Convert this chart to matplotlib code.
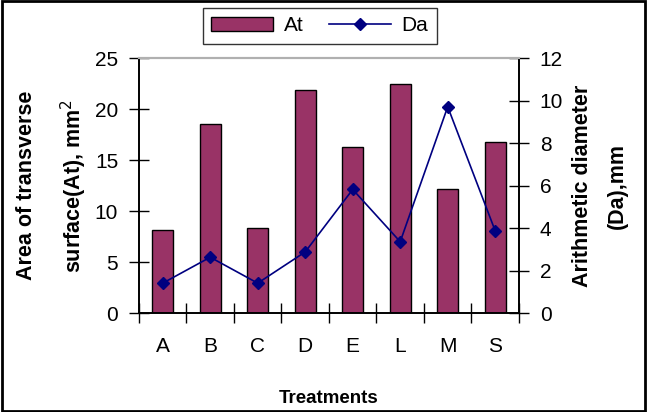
import matplotlib
matplotlib.use("Agg")
import matplotlib.pyplot as plt
from matplotlib.lines import Line2D
from matplotlib.patches import Patch, Rectangle

categories = ["A", "B", "C", "D", "E", "L", "M", "S"]
at_values = [8.1, 18.5, 8.3, 21.9, 16.3, 22.5, 12.2, 16.8]
da_values = [1.41, 2.63, 1.41, 2.88, 5.82, 3.36, 9.71, 3.87]

plt.rcParams['font.family'] = ['Liberation Sans', 'DejaVu Sans']

fig = plt.figure(figsize=(6.47, 4.12), dpi=100)
ax = fig.add_axes([0.2148, 0.240, 0.5873, 0.619])
x = list(range(len(categories)))
ax.bar(x, at_values, width=0.45, color="#993366", edgecolor="black", linewidth=1.0, zorder=2)
ax.set_xlim(-0.5, len(categories) - 0.5)
ax.set_ylim(0, 25)
ax.set_yticks([0, 5, 10, 15, 20, 25])
ax.set_xticks(x)
ax.set_xticklabels(categories)
ax.set_xticks([i - 0.5 for i in range(len(categories) + 1)], minor=True)
ax.tick_params(axis='x', which='major', length=0, labelsize=15, pad=17)
ax.tick_params(axis='x', which='minor', length=14, direction='inout', width=1)
ax.tick_params(axis='y', length=14, direction='inout', width=1, labelsize=15, pad=8)

ax2 = ax.twinx()
ax2.plot(x, da_values, color="#000080", marker="D", markersize=6, linewidth=1.2, zorder=3)
ax2.set_ylim(0, 12)
ax2.set_yticks([0, 2, 4, 6, 8, 10, 12])
ax2.tick_params(axis='y', length=14, direction='inout', width=1, labelsize=15, pad=8)

for a in (ax, ax2):
    a.spines['top'].set_color('#b0b0b0')
    a.spines['top'].set_linewidth(1.5)
    a.spines['left'].set_linewidth(1.2)
    a.spines['right'].set_linewidth(1.2)
    a.spines['bottom'].set_linewidth(1.2)

ax.set_ylabel("Area of transverse\nsurface(At), mm$^2$", fontsize=15.5, fontweight='bold',
              labelpad=4, linespacing=2.0)
ax2.set_ylabel("Arithmetic diameter\n(Da),mm", fontsize=15.5, fontweight='bold',
               labelpad=6, linespacing=1.9)
ax.set_xlabel("Treatments", fontsize=13.5, fontweight='bold', labelpad=25)

handles = [Patch(facecolor="#993366", edgecolor="black"),
           Line2D([0], [0], color="#000080", marker="D", markersize=6, linewidth=1.2)]
leg = fig.legend(handles, ["At", "Da"], loc='upper center', bbox_to_anchor=(0.494, 1.006),
                 ncol=2, frameon=True, fancybox=False, edgecolor='black', fontsize=15,
                 handlelength=3.0, handleheight=0.6, columnspacing=1.2, borderpad=0.4,
                 handletextpad=0.5)
leg.get_frame().set_linewidth(1.0)

fig.patches.append(Rectangle((0.003, 0.003), 0.994, 0.994, transform=fig.transFigure,
                             fill=False, edgecolor='black', linewidth=2))

fig.savefig("out.png", dpi=100)
